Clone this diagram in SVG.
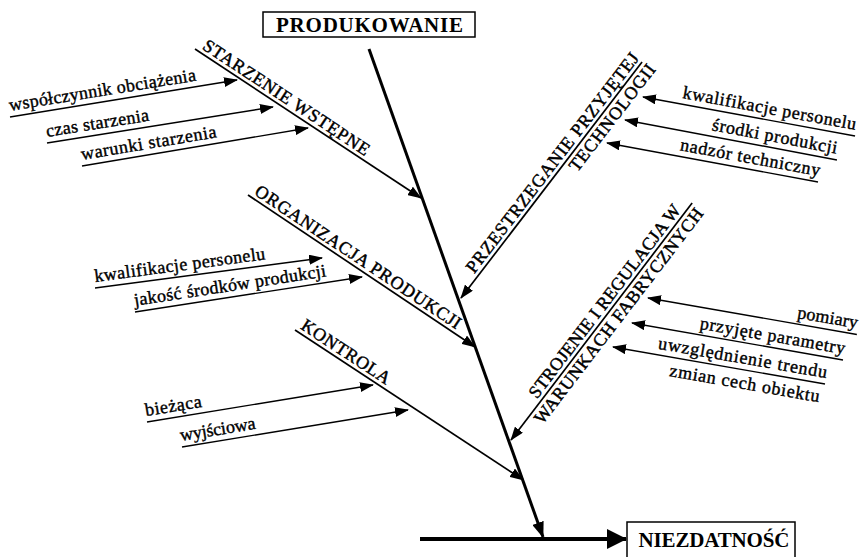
<svg xmlns="http://www.w3.org/2000/svg" width="861" height="557" viewBox="0 0 861 557">
  <style>
    .bg { fill: #ffffff; }
    .box { fill: #ffffff; stroke: #000000; stroke-width: 1.5; }
    .head { font-family: "Liberation Serif", "Times New Roman", serif; font-weight: bold; font-size: 21px; fill: #000000; }
    .title { font-family: "Liberation Serif", "Times New Roman", serif; font-weight: normal; font-size: 18px; fill: #000000; stroke: #000000; stroke-width: 0.45; }
    .lbl { font-family: "Liberation Serif", "Times New Roman", serif; font-weight: normal; font-size: 18px; fill: #000000; stroke: #000000; stroke-width: 0.4; }
    .spine { stroke: #000000; stroke-width: 3; fill: none; }
    .base { stroke: #000000; stroke-width: 4; fill: none; }
    .branch { stroke: #000000; stroke-width: 1.7; fill: none; }
    .input { stroke: #000000; stroke-width: 1.4; fill: none; }
  </style>
  <defs>
    <marker id="arr" viewBox="0 0 14 10" refX="13" refY="5" markerWidth="14" markerHeight="10" orient="auto" markerUnits="userSpaceOnUse">
      <path d="M0,0 L14,5 L0,10 z" fill="#000000"/>
    </marker>
    <marker id="arrSpine" viewBox="0 0 16 12" refX="15" refY="6" markerWidth="16" markerHeight="12" orient="auto" markerUnits="userSpaceOnUse">
      <path d="M0,0 L16,6 L0,12 z" fill="#000000"/>
    </marker>
    <marker id="arrBig" viewBox="0 0 20 20" refX="19" refY="10" markerWidth="20" markerHeight="20" orient="auto" markerUnits="userSpaceOnUse">
      <path d="M0,0 L20,10 L0,20 z" fill="#000000"/>
    </marker>
  </defs>

  <rect class="bg" x="0" y="0" width="861" height="557"/>

  <!-- all lines and arrows -->
  <g id="connectors">
    <!-- main spine and outcome line -->
    <line class="spine" x1="369" y1="49" x2="543" y2="537" marker-end="url(#arrSpine)"/>
    <line class="base" x1="420" y1="539" x2="626" y2="539" marker-end="url(#arrBig)"/>

    <!-- cause branches -->
    <line class="branch" transform="translate(195,49) rotate(33.4)" x1="0" y1="0" x2="270.7" y2="0" marker-end="url(#arr)"/>
    <line class="branch" transform="translate(248,195) rotate(33.8)" x1="0" y1="0" x2="273.2" y2="0" marker-end="url(#arr)"/>
    <line class="branch" transform="translate(295,330) rotate(33.3)" x1="0" y1="0" x2="272.9" y2="0" marker-end="url(#arr)"/>
    <line class="branch" transform="translate(461,298) rotate(-52.5)" x1="297.4" y1="0" x2="0" y2="0" marker-end="url(#arr)"/>
    <line class="branch" transform="translate(511,440) rotate(-52.6)" x1="298.2" y1="0" x2="0" y2="0" marker-end="url(#arr)"/>

    <!-- sub-causes, left side -->
    <line class="input" transform="translate(10,117) rotate(-9.26)" x1="0" y1="0" x2="230" y2="0" marker-end="url(#arr)"/>
    <line class="input" transform="translate(47,143) rotate(-9.05)" x1="0" y1="0" x2="228.8" y2="0" marker-end="url(#arr)"/>
    <line class="input" transform="translate(82,166) rotate(-9.54)" x1="0" y1="0" x2="229.2" y2="0" marker-end="url(#arr)"/>
    <line class="input" transform="translate(95,288) rotate(-7.53)" x1="0" y1="0" x2="229" y2="0" marker-end="url(#arr)"/>
    <line class="input" transform="translate(135,312) rotate(-8.77)" x1="0" y1="0" x2="229.7" y2="0" marker-end="url(#arr)"/>
    <line class="input" transform="translate(147,422) rotate(-9.3)" x1="0" y1="0" x2="229" y2="0" marker-end="url(#arr)"/>
    <line class="input" transform="translate(182,447) rotate(-9.3)" x1="0" y1="0" x2="229" y2="0" marker-end="url(#arr)"/>

    <!-- sub-causes, right side -->
    <line class="input" transform="translate(643,97) rotate(10.42)" x1="215.6" y1="0" x2="0" y2="0" marker-end="url(#arr)"/>
    <line class="input" transform="translate(625,120) rotate(10.68)" x1="215.7" y1="0" x2="0" y2="0" marker-end="url(#arr)"/>
    <line class="input" transform="translate(607,143) rotate(10.47)" x1="214.6" y1="0" x2="0" y2="0" marker-end="url(#arr)"/>
    <line class="input" transform="translate(648,298) rotate(9.9)" x1="212" y1="0" x2="0" y2="0" marker-end="url(#arr)"/>
    <line class="input" transform="translate(632,323) rotate(9.95)" x1="214.2" y1="0" x2="0" y2="0" marker-end="url(#arr)"/>
    <line class="input" transform="translate(613,347) rotate(9.9)" x1="215.2" y1="0" x2="0" y2="0" marker-end="url(#arr)"/>
  </g>

  <!-- head boxes -->
  <g id="produkowanie">
    <rect class="box" x="263" y="12" width="212" height="25"/>
    <text class="head" x="369.5" y="32" text-anchor="middle" textLength="187">PRODUKOWANIE</text>
  </g>
  <g id="niezdatnosc">
    <rect class="box" x="627" y="522" width="168" height="40"/>
    <text class="head" x="714" y="547" text-anchor="middle" font-size="20" textLength="151">NIEZDATNOŚĆ</text>
  </g>

  <!-- branch titles -->
  <g id="starzenie" transform="translate(195,49) rotate(33.4)">
    <text class="title" x="5" y="-4" textLength="196">STARZENIE WSTĘPNE</text>
  </g>
  <g id="organizacja" transform="translate(248,195) rotate(33.8)">
    <text class="title" x="4" y="-4" textLength="244">ORGANIZACJA PRODUKCJI</text>
  </g>
  <g id="kontrola" transform="translate(295,330) rotate(33.3)">
    <text class="title" x="3" y="-4" textLength="103">KONTROLA</text>
  </g>
  <g id="technologia" transform="translate(461,298) rotate(-52.5)">
    <text class="title" x="27" y="-4" textLength="272">PRZESTRZEGANIE PRZYJĘTEJ</text>
    <text class="title" x="170" y="16" textLength="130">TECHNOLOGII</text>
  </g>
  <g id="strojenie" transform="translate(511,440) rotate(-52.6)">
    <text class="title" x="48" y="-4" textLength="238">STROJENIE I REGULACJA W</text>
    <text class="title" x="31" y="16" textLength="266">WARUNKACH FABRYCZNYCH</text>
  </g>

  <!-- sub-cause labels, left side -->
  <g id="wspolczynnik" transform="translate(10,117) rotate(-9.26)">
    <text class="lbl" x="1" y="-6" textLength="189">współczynnik obciążenia</text>
  </g>
  <g id="czas" transform="translate(47,143) rotate(-9.05)">
    <text class="lbl" x="1" y="-6" textLength="104">czas starzenia</text>
  </g>
  <g id="warunki" transform="translate(82,166) rotate(-9.54)">
    <text class="lbl" x="1" y="-6" textLength="137">warunki starzenia</text>
  </g>
  <g id="kwalifikacje-l" transform="translate(95,288) rotate(-7.53)">
    <text class="lbl" x="1" y="-6" textLength="172">kwalifikacje personelu</text>
  </g>
  <g id="jakosc" transform="translate(135,312) rotate(-8.77)">
    <text class="lbl" x="1" y="-6" textLength="194">jakość środków produkcji</text>
  </g>
  <g id="biezaca" transform="translate(147,422) rotate(-9.3)">
    <text class="lbl" x="0" y="-6" textLength="57">bieżąca</text>
  </g>
  <g id="wyjsciowa" transform="translate(182,447) rotate(-9.3)">
    <text class="lbl" x="0" y="-6" textLength="76">wyjściowa</text>
  </g>

  <!-- sub-cause labels, right side -->
  <g id="kwalifikacje-r" transform="translate(643,97) rotate(10.42)">
    <text class="lbl" x="214.6" y="-6" text-anchor="end" textLength="176">kwalifikacje personelu</text>
  </g>
  <g id="srodki" transform="translate(625,120) rotate(10.68)">
    <text class="lbl" x="213.7" y="-6" text-anchor="end" textLength="127">środki produkcji</text>
  </g>
  <g id="nadzor" transform="translate(607,143) rotate(10.47)">
    <text class="lbl" x="214.6" y="-6" text-anchor="end" textLength="142">nadzór techniczny</text>
  </g>
  <g id="pomiary" transform="translate(648,298) rotate(9.9)">
    <text class="lbl" x="211" y="-6" text-anchor="end" textLength="61">pomiary</text>
  </g>
  <g id="parametry" transform="translate(632,323) rotate(9.95)">
    <text class="lbl" x="214.2" y="-6" text-anchor="end" textLength="147">przyjęte parametry</text>
  </g>
  <g id="trend" transform="translate(613,347) rotate(9.9)">
    <text class="lbl" x="215.2" y="-6" text-anchor="end" textLength="171">uwzględnienie trendu</text>
    <text class="lbl" x="212" y="19" text-anchor="end" textLength="152">zmian cech obiektu</text>
  </g>
</svg>
